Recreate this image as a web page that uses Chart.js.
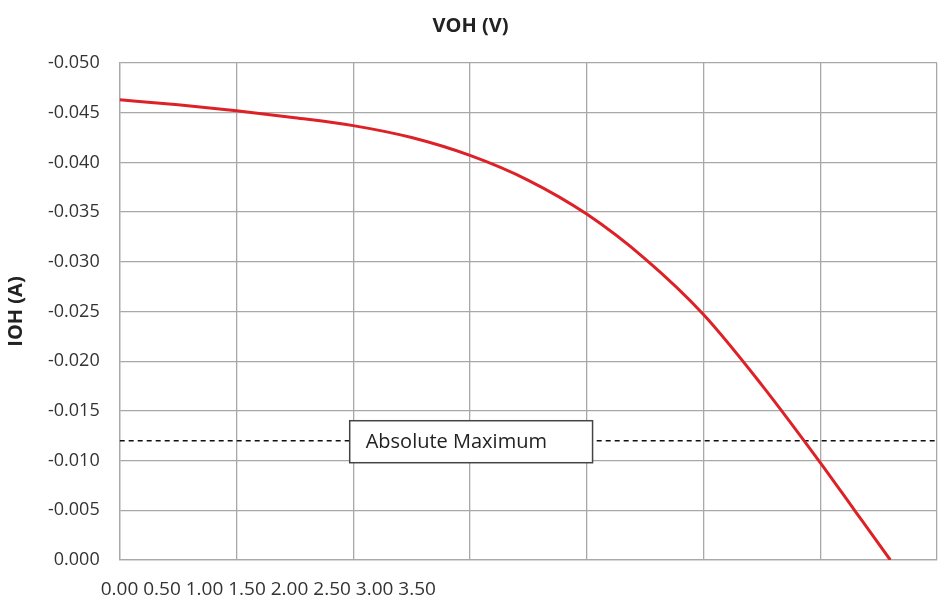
<!DOCTYPE html>
<html>
<head>
<meta charset="utf-8">
<script src="https://cdn.jsdelivr.net/npm/chart.js@4/dist/chart.umd.min.js"></script>
<style>
  html, body { margin: 0; padding: 0; background: #fff; }
  #wrap { width: 945px; height: 603px; }
</style>
</head>
<body>
<div id="wrap"><canvas id="chart1"></canvas></div>
<script>
// VOH (V) vs IOH (A)
const voh = [0, 0.25, 0.5, 0.75, 1.0, 1.25, 1.5, 1.75, 2.0, 2.25, 2.5, 2.75, 3.0, 3.15, 3.3];
const ioh = [-0.0463, -0.0458, -0.0452, -0.0445, -0.0437, -0.0425, -0.0407, -0.0382, -0.0348,
             -0.0303, -0.0247, -0.0176, -0.0098, -0.0049, 0];
const xTicks = ["0.00", "0.50", "1.00", "1.50", "2.00", "2.50", "3.00", "3.50"];
const absMax = -0.012;
const absMaxLabel = "Absolute Maximum";

const canvas = document.getElementById("chart1");
const gridColor = "#a8a8a8";
const font = "'Open Sans', 'Liberation Sans', sans-serif";

// white box with the "Absolute Maximum" label sitting on the dashed line
const labelBox = {
  id: "labelBox",
  afterDatasetsDraw(chart) {
    const { ctx, scales } = chart;
    const x1 = scales.x.getPixelForValue(0.985);
    const x2 = scales.x.getPixelForValue(2.025);
    const yc = scales.y.getPixelForValue(absMax);
    const top = yc - 20, h = 42;
    ctx.save();
    ctx.fillStyle = "#fff";
    ctx.fillRect(x1, top, x2 - x1, h);
    ctx.strokeStyle = "#444";
    ctx.lineWidth = 1.5;
    ctx.strokeRect(x1, top, x2 - x1, h);
    ctx.fillStyle = "#222";
    ctx.font = "20px " + font;
    ctx.textBaseline = "middle";
    ctx.fillText(absMaxLabel, x1 + 16, top + h / 2 + 1);
    ctx.restore();
  },
};

// the x labels sit squeezed together under the left end of the axis
const xLabels = {
  id: "xLabels",
  afterDraw(chart) {
    const { ctx, chartArea } = chart;
    ctx.save();
    ctx.fillStyle = "#333";
    ctx.font = "19px " + font;
    ctx.textBaseline = "middle";
    ctx.fillText(xTicks.join(" "), chartArea.left - 19, chartArea.bottom + 30);
    ctx.restore();
  },
};

const myChart = new Chart(canvas, {
  type: "line",
  data: {
    datasets: [
      {
        label: "IOH",
        data: voh.map((v, i) => ({ x: v, y: ioh[i] })),
        borderColor: "#dd2127",
        borderWidth: 3,
        pointRadius: 0,
        cubicInterpolationMode: "monotone",
      },
      {
        label: "Absolute Maximum",
        data: [{ x: 0, y: absMax }, { x: 3.5, y: absMax }],
        borderColor: "#111",
        borderWidth: 1.5,
        borderDash: [5, 4],
        pointRadius: 0,
      },
    ],
  },
  options: {
    responsive: true,
    maintainAspectRatio: false,
    animation: false,
    layout: { padding: { top: 14, right: 8, left: 4, bottom: 43 } },
    plugins: {
      legend: { display: false },
      tooltip: { enabled: false },
      title: {
        display: true,
        text: "VOH (V)",
        color: "#222",
        font: { family: font, size: 20, weight: "bold" },
        padding: { top: 0, bottom: 25 },
      },
    },
    scales: {
      x: {
        type: "linear",
        min: 0,
        max: 3.5,
        ticks: { display: false, stepSize: 0.5 },
        grid: { color: gridColor, lineWidth: 1.3, drawTicks: false },
        border: { color: gridColor, width: 1.3 },
      },
      y: {
        min: -0.05,
        max: 0,
        reverse: true,
        ticks: {
          stepSize: 0.005,
          padding: 20,
          color: "#333",
          font: { family: font, size: 18 },
          callback: (v) => (Math.abs(v) < 1e-9 ? "0.000" : v.toFixed(3)),
        },
        grid: { color: gridColor, lineWidth: 1.3, drawTicks: false },
        border: { color: gridColor, width: 1.3 },
        title: {
          display: true,
          text: "IOH (A)",
          color: "#222",
          font: { family: font, size: 20, weight: "bold" },
          padding: { top: 0, bottom: 0 },
        },
      },
    },
  },
  plugins: [labelBox, xLabels],
});
</script>
</body>
</html>
